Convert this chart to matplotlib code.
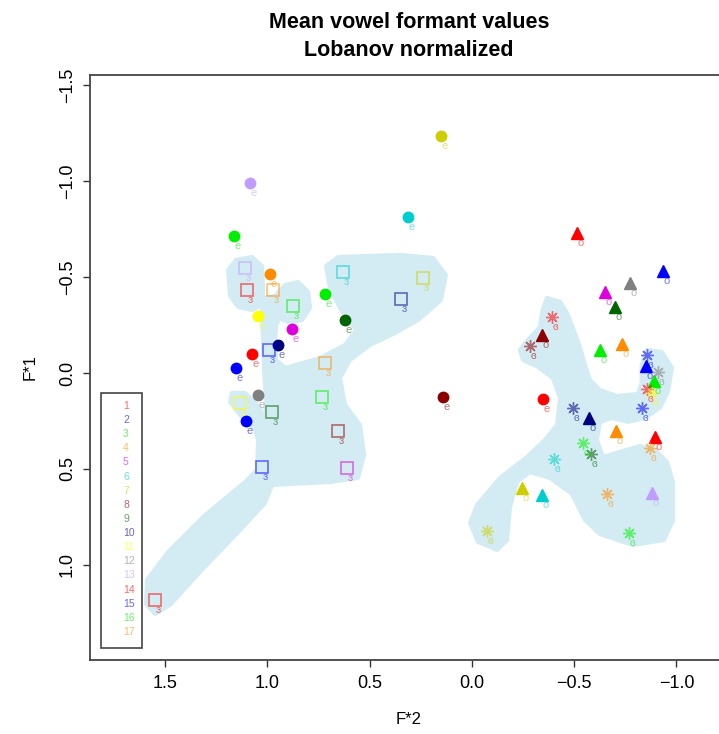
import numpy as np
import matplotlib
matplotlib.use('Agg')
import matplotlib.pyplot as plt
from matplotlib.patches import Rectangle

plt.rcParams['font.family'] = ['Liberation Sans', 'DejaVu Sans']

# Farben der 17 Sprecher
spk_cols = ['#ff0000', '#0000ff', '#00ee00', '#ff8c00', '#dd00dd', '#00cdcd',
            '#cdcd00', '#8b0000', '#006400', '#000080', '#ffff00', '#808080',
            '#c09cff', '#ff0000', '#0000ff', '#00ee00', '#ff8c00']
spk_names = [str(i) for i in range(1, 18)]

# Vokal "e" (gefüllte Kreise)
e_spk = [13, 3, 4, 11, 5, 10, 1, 2, 12, 15, 16, 9, 6, 7, 8, 14]
e_f2 = [1.085, 1.163, 0.987, 1.045, 0.879, 0.948, 1.075, 1.153, 1.045, 1.104, 0.718, 0.620, 0.312, 0.151, 0.141, -0.347]
e_f1 = [-0.990, -0.714, -0.516, -0.297, -0.229, -0.146, -0.099, -0.026, 0.115, 0.250, -0.411, -0.276, -0.813, -1.234, 0.125, 0.135]

# Vokal "o" (Dreiecke)
o_spk = [14, 2, 12, 5, 9, 8, 3, 4, 15, 16, 10, 17, 1, 7, 6, 13]
o_f2 = [-0.514, -0.934, -0.773, -0.651, -0.699, -0.343, -0.626, -0.734, -0.851, -0.890, -0.572, -0.704, -0.895, -0.245, -0.343, -0.880]
o_f1 = [-0.729, -0.531, -0.469, -0.422, -0.344, -0.198, -0.120, -0.151, -0.036, 0.042, 0.234, 0.302, 0.333, 0.599, 0.635, 0.625]

# Vokal "ɜ" (offene Quadrate)
er_spk = [13, 1, 4, 3, 6, 10, 7, 2, 17, 16, 11, 9, 8, 15, 5, 14]
er_f2 = [1.109, 1.099, 0.972, 0.874, 0.630, 0.347, 0.239, 0.992, 0.718, 0.733, 1.133, 0.977, 0.654, 1.026, 0.610, 1.549]
er_f1 = [-0.547, -0.432, -0.432, -0.349, -0.526, -0.385, -0.495, -0.120, -0.052, 0.125, 0.156, 0.203, 0.302, 0.490, 0.495, 1.180]

# Vokal "ɞ" (Sterne)
oe_spk = [14, 8, 15, 12, 1, 11, 10, 2, 16, 9, 6, 17, 4, 7, 3]
oe_f2 = [-0.392, -0.284, -0.856, -0.910, -0.856, -0.880, -0.494, -0.831, -0.543, -0.582, -0.401, -0.870, -0.660, -0.074, -0.768]
oe_f1 = [-0.292, -0.141, -0.094, -0.005, 0.083, 0.104, 0.182, 0.182, 0.365, 0.422, 0.448, 0.391, 0.630, 0.823, 0.833]

# Umrisse der hellblauen Flächen (F*2, F*1)
lobe_f2 = [1.192, 1.153, 1.075, 1.026, 1.021, 1.026, 1.075, 1.143, 1.182]
lobe_f1 = [-0.536, -0.589, -0.604, -0.557, -0.443, -0.354, -0.328, -0.344, -0.401]

front_f2 = [1.026, 0.962, 0.913, 0.850, 0.801, 0.791, 0.830, 0.889, 0.938, 0.957, 0.962, 0.957,
            0.913, 0.742, 0.620, 0.566, 0.645, 0.694, 0.713, 0.654, 0.351, 0.190, 0.127, 0.151,
            0.263, 0.376, 0.498, 0.596, 0.645, 0.620, 0.547, 0.527, 0.557, 0.694, 0.977, 1.011,
            1.133, 1.329, 1.476, 1.549, 1.593, 1.588, 1.485, 1.304, 1.109, 1.050, 1.045, 1.060,
            1.133, 1.182, 1.173, 1.109, 1.050, 1.011, 1.006, 1.016, 1.021, 1.026]
front_f1 = [-0.391, -0.401, -0.458, -0.474, -0.422, -0.339, -0.276, -0.260, -0.286, -0.250, -0.172, -0.068,
            -0.026, -0.078, -0.146, -0.224, -0.339, -0.443, -0.557, -0.604, -0.615, -0.599, -0.510, -0.380,
            -0.276, -0.208, -0.146, -0.068, 0.026, 0.167, 0.271, 0.427, 0.547, 0.568, 0.583, 0.677,
            0.818, 1.036, 1.208, 1.255, 1.203, 1.078, 0.932, 0.740, 0.568, 0.505, 0.349, 0.297,
            0.219, 0.151, 0.104, 0.104, 0.167, 0.234, 0.141, -0.016, -0.172, -0.302]

back_f2 = [-0.367, -0.431, -0.465, -0.494, -0.528, -0.553, -0.577, -0.626, -0.709, -0.812, -0.830, -0.830,
           -0.855, -0.929, -0.978, -0.958, -0.919, -0.846, -0.763, -0.685, -0.626, -0.611, -0.641, -0.724,
           -0.822, -0.895, -0.954, -0.983, -0.983, -0.939, -0.787, -0.626, -0.553, -0.489, -0.382, -0.284,
           -0.220, -0.186, -0.172, -0.123, -0.030, 0.009, -0.025, -0.137, -0.269, -0.357, -0.416, -0.431,
           -0.396, -0.323, -0.250, -0.235, -0.274, -0.333, -0.343]
back_f1 = [-0.391, -0.370, -0.313, -0.234, -0.135, -0.042, 0.036, 0.089, 0.120, 0.109, 0.052, -0.042,
           -0.120, -0.109, -0.026, 0.099, 0.182, 0.234, 0.255, 0.234, 0.255, 0.349, 0.438, 0.411,
           0.380, 0.401, 0.464, 0.568, 0.766, 0.870, 0.896, 0.839, 0.766, 0.630, 0.547, 0.516,
           0.568, 0.698, 0.870, 0.922, 0.880, 0.781, 0.688, 0.547, 0.438, 0.349, 0.271, 0.130,
           0.026, -0.031, -0.068, -0.120, -0.172, -0.240, -0.318]

fig = plt.figure(figsize=(7.19, 7.34), dpi=100)
ax = fig.add_axes([90 / 719, 74 / 734, 638 / 719, 585 / 734])

blue = '#d3ecf3'
for fx, fy in [(lobe_f2, lobe_f1), (front_f2, front_f1), (back_f2, back_f1)]:
    ax.fill(fx, fy, facecolor=blue, edgecolor=blue, lw=3, joinstyle='round', zorder=0)

# Punkte mit Beschriftung
sets = [
    (e_f2, e_f1, e_spk, 'o', 'e', 1.0, 7.5),
    (o_f2, o_f1, o_spk, '^', 'o', 1.0, 8.5),
    (er_f2, er_f1, er_spk, 's', 'ɜ', 0.55, 8),
    (oe_f2, oe_f1, oe_spk, (8, 2, 0), 'ɞ', 0.55, 9),
]
for xs, ys, spk, mk, lab, a, ms in sets:
    for x, y, s in zip(xs, ys, spk):
        c = spk_cols[s - 1]
        if mk == 's':
            ax.plot(x, y, marker=mk, ms=ms, mfc='none', mec=c, mew=1.2, alpha=a, ls='none')
        elif mk == 'o' or mk == '^':
            ax.plot(x, y, marker=mk, ms=ms, color=c, mec=c, alpha=a, ls='none')
        else:
            ax.plot(x, y, marker=mk, ms=ms, mec=c, mew=1.0, alpha=a, ls='none')
        ax.annotate(lab, (x, y), xytext=(2.5, -7.5), textcoords='offset points',
                    ha='center', va='center', fontsize=8, color=c, alpha=0.55)

ax.set_xlim(1.867, -1.252)
ax.set_ylim(1.495, -1.552)
ax.set_xticks([1.5, 1.0, 0.5, 0.0, -0.5, -1.0])
ax.set_yticks([-1.5, -1.0, -0.5, 0.0, 0.5, 1.0])
ax.tick_params(axis='both', length=5, width=1, labelsize=13, color='#333333')
ax.tick_params(axis='x', pad=6)
ax.tick_params(axis='y', labelrotation=90, pad=5)
for lbl in ax.get_yticklabels():
    lbl.set_va('center')
for sp in ax.spines.values():
    sp.set_color('#444444')
    sp.set_linewidth(1.3)

# Legende
ax.add_patch(Rectangle((11 / 638, 12 / 585), 41 / 638, 255 / 585, transform=ax.transAxes,
                       fill=False, edgecolor='#444444', lw=1.2))
for i, name in enumerate(spk_names):
    py = 406 + i * 14.12
    ax.text(33 / 638, (660 - py) / 585, name, transform=ax.transAxes, ha='left', va='center',
            fontsize=7.5, color=spk_cols[i], alpha=0.6)

fig.text(409 / 719, 1 - 22 / 734, 'Mean vowel formant values', ha='center', va='center',
         fontsize=15.5, fontweight='bold')
fig.text(409 / 719, 1 - 50 / 734, 'Lobanov normalized', ha='center', va='center',
         fontsize=15.5, fontweight='bold')
fig.text(409 / 719, 1 - 720 / 734, 'F*2', ha='center', va='center', fontsize=12)
fig.text(30 / 719, 1 - 367 / 734, 'F*1', ha='center', va='center', fontsize=12, rotation=90)

fig.savefig('out.png', dpi=100)
